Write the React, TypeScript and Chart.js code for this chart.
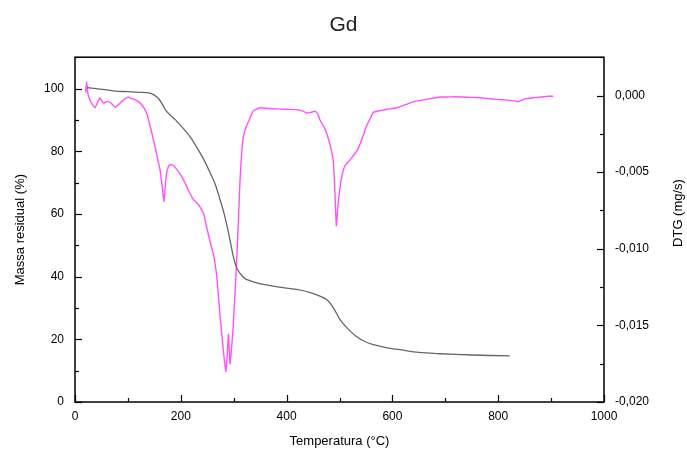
import React, { useEffect, useRef } from "react";
import { Chart, registerables } from "chart.js";

Chart.register(...registerables);

const titleText = "Gd";
const xTitle = "Temperatura (°C)";
const yLeftTitle = "Massa residual (%)";
const yRightTitle = "DTG (mg/s)";

const tgTemp = [23, 40, 60, 76, 100, 120, 142, 157, 165, 173, 190, 205, 218, 230, 243, 255, 265, 274, 282, 290, 295, 299, 304, 309, 316, 324, 340, 356, 380, 419, 445, 463, 475, 482, 492, 501, 515, 532, 548, 564, 590, 614, 650, 690, 750, 822];
const tgMass = [100.3, 100.0, 99.6, 99.2, 99.0, 98.8, 98.5, 97.0, 95.0, 92.7, 90.0, 87.2, 84.5, 81.3, 77.5, 73.3, 69.5, 64.7, 60.0, 54.1, 50.0, 46.6, 43.5, 41.8, 40.2, 39.1, 38.2, 37.5, 36.8, 35.9, 34.9, 33.8, 32.8, 31.6, 29.0, 26.3, 23.5, 20.9, 19.3, 18.3, 17.3, 16.7, 15.8, 15.4, 15.0, 14.7];

const dtgTemp = [20, 22, 24, 28, 33, 38, 42, 47, 50, 54, 60, 66, 71, 76, 82, 88, 95, 101, 106, 110, 115, 120, 126, 132, 137, 142, 147, 151, 156, 161, 165, 168, 170, 173, 177, 181, 187, 192, 200, 208, 216, 224, 230, 235, 240, 244, 249, 253, 258, 262, 268, 274, 280, 285, 288, 290, 293, 296, 299, 302, 305, 309, 312, 315, 318, 323, 328, 337, 350, 365, 381, 400, 419, 430, 438, 446, 454, 459, 463, 470, 476, 482, 488, 491, 494, 497, 501, 505, 510, 520, 535, 545, 551, 558, 564, 576, 590, 608, 625, 640, 655, 671, 690, 703, 720, 734, 750, 766, 782, 797, 815, 830, 838, 845, 852, 866, 880, 895, 904];
const dtgRate = [0.0002, 0.0009, 0.0002, -0.0003, -0.0006, -0.0008, -0.0005, -0.00015, -0.0003, -0.0005, -0.0004, -0.00045, -0.0006, -0.00077, -0.0006, -0.0004, -0.0002, -0.0001, -0.0002, -0.00022, -0.0003, -0.0004, -0.0006, -0.0009, -0.0013, -0.002, -0.0027, -0.0033, -0.0041, -0.0049, -0.006, -0.0069, -0.0062, -0.0051, -0.0046, -0.0045, -0.0046, -0.0048, -0.0052, -0.0057, -0.0063, -0.0068, -0.007, -0.0072, -0.0075, -0.0078, -0.0086, -0.0092, -0.0099, -0.0104, -0.0118, -0.0143, -0.0165, -0.018, -0.0168, -0.0156, -0.0175, -0.0165, -0.0151, -0.0132, -0.0112, -0.0081, -0.0055, -0.0038, -0.0027, -0.0021, -0.0017, -0.001, -0.0008, -0.00085, -0.00087, -0.0009, -0.00092, -0.001, -0.00114, -0.0011, -0.00103, -0.0012, -0.0016, -0.002, -0.0025, -0.0032, -0.0042, -0.006, -0.0085, -0.0072, -0.006, -0.0052, -0.0046, -0.0042, -0.0035, -0.0026, -0.002, -0.0015, -0.0011, -0.001, -0.0009, -0.0008, -0.0006, -0.0004, -0.0003, -0.0002, -0.0001, -0.0001, -0.00008, -0.0001, -0.00012, -0.00015, -0.0002, -0.00025, -0.0003, -0.00035, -0.0004, -0.0003, -0.0002, -0.00015, -0.0001, -0.00005, -0.00005];

const FONT = "'Liberation Sans', Arial, sans-serif";

const isMult = (v: number, step: number) => Math.abs(Math.round(v / step) * step - v) < 1e-9;

const framePlugin = {
  id: "frameTicks",
  afterDatasetsDraw(chart: any) {
    const { ctx, chartArea } = chart;
    const { left, right, top, bottom } = chartArea;
    ctx.save();
    ctx.strokeStyle = "#000";
    ctx.lineWidth = 1.5;
    ctx.strokeRect(left, top, right - left, bottom - top);
    ctx.lineWidth = 1.2;
    const major = 7;
    const minor = 4;
    const xs = chart.scales.x;
    xs.ticks.forEach((t: any) => {
      const p = Math.round(xs.getPixelForValue(t.value)) + 0.5;
      const len = isMult(t.value, 200) ? major : minor;
      ctx.beginPath();
      ctx.moveTo(p, bottom);
      ctx.lineTo(p, bottom - len);
      ctx.stroke();
    });
    const ys = chart.scales.y;
    ys.ticks.forEach((t: any) => {
      const p = Math.round(ys.getPixelForValue(t.value)) + 0.5;
      const len = isMult(t.value, 20) ? major : minor;
      ctx.beginPath();
      ctx.moveTo(left, p);
      ctx.lineTo(left + len, p);
      ctx.stroke();
    });
    const y1 = chart.scales.y1;
    y1.ticks.forEach((t: any) => {
      const p = Math.round(y1.getPixelForValue(t.value)) + 0.5;
      const len = isMult(t.value, 0.005) ? major : minor;
      ctx.beginPath();
      ctx.moveTo(right, p);
      ctx.lineTo(right - len, p);
      ctx.stroke();
    });
    // right axis title, reading bottom to top
    ctx.fillStyle = "#000";
    ctx.font = `13px ${FONT}`;
    ctx.textAlign = "center";
    ctx.textBaseline = "middle";
    ctx.translate(678, 213);
    ctx.rotate(-Math.PI / 2);
    ctx.fillText(yRightTitle, 0, 0);
    ctx.restore();
  },
};

export default function App() {
  const ref = useRef<HTMLCanvasElement | null>(null);
  useEffect(() => {
    if (!ref.current) return;
    const chart = new Chart(ref.current, {
      type: "line",
      data: {
        datasets: [
          {
            label: "TG",
            data: tgTemp.map((x, i) => ({ x, y: tgMass[i] })),
            yAxisID: "y",
            borderColor: "#666666",
            borderWidth: 1.3,
            pointRadius: 0,
            tension: 0.3,
            fill: false,
          },
          {
            label: "DTG",
            data: dtgTemp.map((x, i) => ({ x, y: dtgRate[i] })),
            yAxisID: "y1",
            borderColor: "#ff50ff",
            borderWidth: 1.4,
            pointRadius: 0,
            tension: 0.15,
            fill: false,
          },
        ],
      },
      options: {
        animation: false,
        responsive: false,
        devicePixelRatio: 1,
        layout: { padding: 0 },
        plugins: {
          legend: { display: false },
          tooltip: { enabled: false },
          title: {
            display: true,
            text: titleText,
            color: "#222",
            font: { family: FONT, size: 21, weight: "normal" },
            padding: { top: 13, bottom: 19 },
          },
        },
        scales: {
          x: {
            type: "linear",
            min: 0,
            max: 1000,
            grid: { display: false, drawTicks: false, tickLength: 0 },
            border: { display: false },
            ticks: {
              stepSize: 100,
              autoSkip: false,
              maxRotation: 0,
              padding: 7,
              color: "#000",
              font: { family: FONT, size: 12 },
              callback: (v: any) => (isMult(Number(v), 200) ? String(v) : ""),
            },
            title: {
              display: true,
              text: xTitle,
              color: "#000",
              font: { family: FONT, size: 13 },
              padding: { top: 0, bottom: 5 },
            },
            afterFit: (s: any) => {
              s.height = 52;
            },
          },
          y: {
            type: "linear",
            position: "left",
            min: 0,
            max: 110,
            grid: { display: false, drawTicks: false, tickLength: 0 },
            border: { display: false },
            ticks: {
              stepSize: 10,
              autoSkip: false,
              padding: 11,
              color: "#000",
              font: { family: FONT, size: 12 },
              callback: (v: any) => (isMult(Number(v), 20) ? String(v) : ""),
            },
            title: {
              display: true,
              text: yLeftTitle,
              color: "#000",
              font: { family: FONT, size: 13 },
              padding: { top: 13, bottom: 0 },
            },
            afterFit: (s: any) => {
              s.width = 75;
            },
          },
          y1: {
            type: "linear",
            position: "right",
            min: -0.02,
            max: 0.0025,
            grid: { display: false, drawTicks: false, tickLength: 0 },
            border: { display: false },
            ticks: {
              stepSize: 0.0025,
              autoSkip: false,
              padding: 11,
              color: "#000",
              font: { family: FONT, size: 12 },
              callback: (v: any) => {
                const n = Number(v);
                if (!isMult(n, 0.005)) return "";
                const r = Math.round(n / 0.005) * 0.005;
                if (Math.abs(r) < 1e-9) return "0,000";
                return r.toFixed(3).replace(".", ",");
              },
            },
            afterFit: (s: any) => {
              s.width = 83;
            },
          },
        },
      },
      plugins: [framePlugin],
    });
    return () => chart.destroy();
  }, []);
  return (
    <div style={{ position: "absolute", left: 0, top: 0, width: 687, height: 454, background: "#fff" }}>
      <canvas ref={ref} width={687} height={454} style={{ display: "block" }} />
    </div>
  );
}
